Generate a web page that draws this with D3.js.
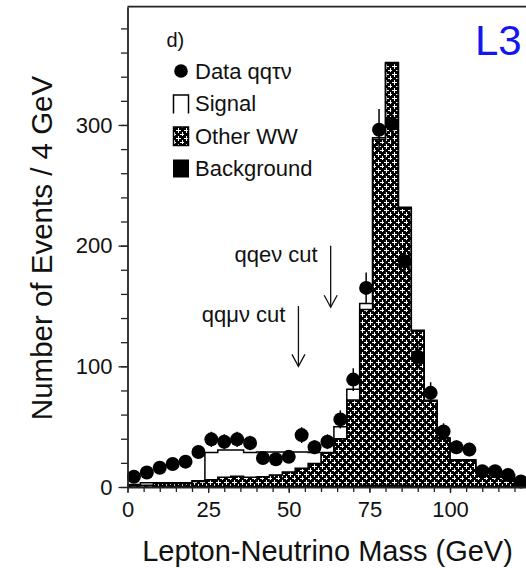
<!DOCTYPE html>
<html>
<head>
<meta charset="utf-8">
<script src="https://cdn.jsdelivr.net/npm/d3@7"></script>
<style>
    body { margin: 0; background: #fff; }
    #chart { width: 526px; height: 568px; }
    text { font-family: "Liberation Sans", Arial, sans-serif; fill: #111; }
</style>
</head>
<body>
<div id="chart"></div>
<script>

// histogram bins: 4 GeV wide, starting at 0
const binWidth = 4;

// stacked MC components, events per bin
const background = [0.5,0.5,1,1,1,1,1,1,1,1,1,1,1,1,1,1,1,1,2,2,2,2,1,1,1,1,1,1,1,1,0.5];
const otherWW = [0.5,1,2,2,2,3.5,5,7,8,7,7.5,9,11.5,14.5,18.5,27,39,71,145,286,349,229,128,70,39,21,21,14,12,9,0];
const signal = [1,2,0.6,0.6,0.6,0.7,22.5,22.7,21.7,20.5,20.5,19,16.5,13.5,9,0.5,10,9,5,1.5,0.8,0.8,0.8,0.8,0.8,0.5,0.5,0.5,0.5,0.5,0];

// data points qq tau nu
const dataCounts = [8.5,12,16,19,21,29,39.5,37.5,39.5,36.5,24,23,25,43,33,37.5,56,89,165,296,301,187,108,78,46,33,31,13,13,10,4.5];

// cut arrows (mass in GeV, arrow top / bottom in events)
const cutLabels = ["qqe\u03bd cut", "qq\u03bc\u03bd cut"];
const cutMass = [63, 53];
const cutTop = [200, 150];
const cutBottom = [149, 100];

// legend
const legendLabels = ["Data qq\u03c4\u03bd", "Signal", "Other WW", "Background"];

const xMajorTicks = [0, 25, 50, 75, 100];
const yMajorTicks = [0, 100, 200, 300];

const width = 526;
const height = 568;

const svg = d3.select("#chart")
    .append("svg")
    .attr("width", width)
    .attr("height", height);

svg.append("rect").attr("width", width).attr("height", height).attr("fill", "#fff");

// pattern for "Other WW": black with white crosses
const defs = svg.append("defs");
const pat = defs.append("pattern")
    .attr("id", "ww")
    .attr("patternUnits", "userSpaceOnUse")
    .attr("width", 8)
    .attr("height", 8);
pat.append("rect").attr("width", 8).attr("height", 8).attr("fill", "#000");
[[2, 2], [6, 6]].forEach(function(c) {
    pat.append("rect").attr("x", c[0] - 2).attr("y", c[1]).attr("width", 5).attr("height", 1).attr("fill", "#fff");
    pat.append("rect").attr("x", c[0]).attr("y", c[1] - 2).attr("width", 1).attr("height", 5).attr("fill", "#fff");
});

const xScale = d3.scaleLinear()
    .domain([0, 125])
    .range([127.5, 127.5 + 3.225 * 125]);

const yScale = d3.scaleLinear()
    .domain([0, 398])
    .range([487, 6.7]);

/* build the stacked bins */
const bins = signal.map(function(s, i) {
    const b = background[i];
    const w = b + otherWW[i];
    return { x0: i * binWidth, x1: (i + 1) * binWidth, bg: b, ww: w, tot: w + s, n: dataCounts[i] };
});

const hist = svg.append("g");

hist.selectAll("rect.sig")
    .data(bins)
    .enter()
    .append("rect")
        .attr("class", "sig")
        .attr("x", function(d) { return xScale(d.x0); })
        .attr("y", function(d) { return yScale(d.tot); })
        .attr("width", function(d) { return xScale(d.x1) - xScale(d.x0); })
        .attr("height", function(d) { return yScale(0) - yScale(d.tot); })
        .attr("fill", "#fff");

hist.selectAll("rect.ww")
    .data(bins)
    .enter()
    .append("rect")
        .attr("class", "ww")
        .attr("x", function(d) { return xScale(d.x0); })
        .attr("y", function(d) { return yScale(d.ww); })
        .attr("width", function(d) { return xScale(d.x1) - xScale(d.x0) + 0.3; })
        .attr("height", function(d) { return yScale(0) - yScale(d.ww); })
        .attr("fill", "url(#ww)");

hist.selectAll("rect.bg")
    .data(bins)
    .enter()
    .append("rect")
        .attr("class", "bg")
        .attr("x", function(d) { return xScale(d.x0); })
        .attr("y", function(d) { return yScale(d.bg); })
        .attr("width", function(d) { return xScale(d.x1) - xScale(d.x0) + 0.3; })
        .attr("height", function(d) { return yScale(0) - yScale(d.bg); })
        .attr("fill", "#000");

// outlines as step lines
function stepPoints(key) {
    const pts = bins.map(function(d) { return [d.x0, d[key]]; });
    pts.push([bins[bins.length - 1].x1, bins[bins.length - 1][key]]);
    return pts;
}
const step = d3.line()
    .x(function(d) { return xScale(d[0]); })
    .y(function(d) { return yScale(d[1]); })
    .curve(d3.curveStepAfter);

hist.append("path")
    .attr("d", step(stepPoints("tot")))
    .attr("fill", "none")
    .attr("stroke", "#000")
    .attr("stroke-width", 1.5);

hist.append("path")
    .attr("d", step(stepPoints("ww")))
    .attr("fill", "none")
    .attr("stroke", "#000")
    .attr("stroke-width", 1.5);

/* data points with error bars */
const pts = svg.append("g");
pts.selectAll("line")
    .data(bins)
    .enter()
    .append("line")
        .attr("x1", function(d) { return xScale((d.x0 + d.x1) / 2); })
        .attr("x2", function(d) { return xScale((d.x0 + d.x1) / 2); })
        .attr("y1", function(d) { return yScale(d.n + Math.sqrt(d.n)); })
        .attr("y2", function(d) { return yScale(Math.max(0, d.n - Math.sqrt(d.n))); })
        .attr("stroke", "#000")
        .attr("stroke-width", 1.5);
pts.selectAll("circle")
    .data(bins)
    .enter()
    .append("circle")
        .attr("cx", function(d) { return xScale((d.x0 + d.x1) / 2); })
        .attr("cy", function(d) { return yScale(d.n); })
        .attr("r", 7)
        .attr("fill", "#000");

/* axes */
const yMinor = svg.append("g")
    .attr("transform", "translate(127.5,0)")
    .call(d3.axisLeft(yScale).tickValues(d3.range(0, 398, 20)).tickSize(6.5).tickSizeOuter(0).tickFormat(""));
const yMajor = svg.append("g")
    .attr("transform", "translate(127.5,0)")
    .call(d3.axisLeft(yScale).tickValues(yMajorTicks).tickSize(9).tickSizeOuter(0).tickPadding(6));
yMajor.select(".domain").remove();

const xMinor = svg.append("g")
    .attr("transform", "translate(0,487)")
    .call(d3.axisBottom(xScale).tickValues(d3.range(0, 125, 5)).tickSize(5).tickSizeOuter(0).tickFormat(""));
const xMajor = svg.append("g")
    .attr("transform", "translate(0,487)")
    .call(d3.axisBottom(xScale).tickValues(xMajorTicks).tickSize(6).tickSizeOuter(0).tickPadding(8));
xMajor.select(".domain").remove();

svg.selectAll(".tick line").attr("stroke", "#222").attr("stroke-width", 1.3);
svg.selectAll(".domain").attr("stroke", "#222").attr("stroke-width", 1.8);
svg.selectAll(".tick text")
    .attr("font-family", "Liberation Sans, Arial, sans-serif")
    .attr("font-size", 22)
    .attr("fill", "#111");

// top frame line
svg.append("line")
    .attr("x1", xScale(0)).attr("x2", width)
    .attr("y1", yScale(398)).attr("y2", yScale(398))
    .attr("stroke", "#222").attr("stroke-width", 1.8);

/* axis labels */
svg.append("text")
    .attr("x", 327.5)
    .attr("y", 561)
    .attr("text-anchor", "middle")
    .attr("font-size", 29)
    .text("Lepton-Neutrino Mass (GeV)");

svg.append("text")
    .attr("transform", "rotate(-90)")
    .attr("x", -248)
    .attr("y", 52)
    .attr("text-anchor", "middle")
    .attr("font-size", 29.5)
    .text("Number of Events / 4 GeV");

/* cut arrows */
cutLabels.forEach(function(label, i) {
    const ax = xScale(cutMass[i]);
    const y0 = yScale(cutTop[i]);
    const y1 = yScale(cutBottom[i]);
    svg.append("line")
        .attr("x1", ax).attr("x2", ax).attr("y1", y0).attr("y2", y1)
        .attr("stroke", "#111").attr("stroke-width", 1.3);
    svg.append("path")
        .attr("d", `M${ax - 6.5},${y1 - 12} L${ax},${y1} L${ax + 6.5},${y1 - 12}`)
        .attr("fill", "none").attr("stroke", "#111").attr("stroke-width", 1.3);
    svg.append("text")
        .attr("x", ax - 13)
        .attr("y", y0 + 16.5)
        .attr("text-anchor", "end")
        .attr("font-size", 22)
        .text(label);
});

/* legend */
svg.append("text").attr("x", 166.5).attr("y", 47).attr("font-size", 20).text("d)");

const legendY = [79.3, 111, 144.3, 175.7];
const legend = svg.append("g");
legend.selectAll("text")
    .data(legendLabels)
    .enter()
    .append("text")
        .attr("x", 195)
        .attr("y", function(d, i) { return legendY[i]; })
        .attr("font-size", 22)
        .text(function(d) { return d; });

legend.append("circle").attr("cx", 181).attr("cy", 71).attr("r", 6.8).attr("fill", "#000");
legend.append("path")
    .attr("d", "M173.5,113.5 V95 H188.5 V113.5")
    .attr("fill", "none").attr("stroke", "#000").attr("stroke-width", 1.5);
legend.append("rect")
    .attr("x", 173.5).attr("y", 127).attr("width", 15).attr("height", 18.5)
    .attr("fill", "url(#ww)").attr("stroke", "#000").attr("stroke-width", 1.5);
legend.append("rect")
    .attr("x", 173).attr("y", 159.5).attr("width", 16).attr("height", 18)
    .attr("fill", "#000");

/* experiment tag */
svg.append("text")
    .attr("x", 475)
    .attr("y", 55)
    .attr("font-size", 42)
    .style("fill", "#1515ee")
    .text("L3");

</script>
</body>
</html>
